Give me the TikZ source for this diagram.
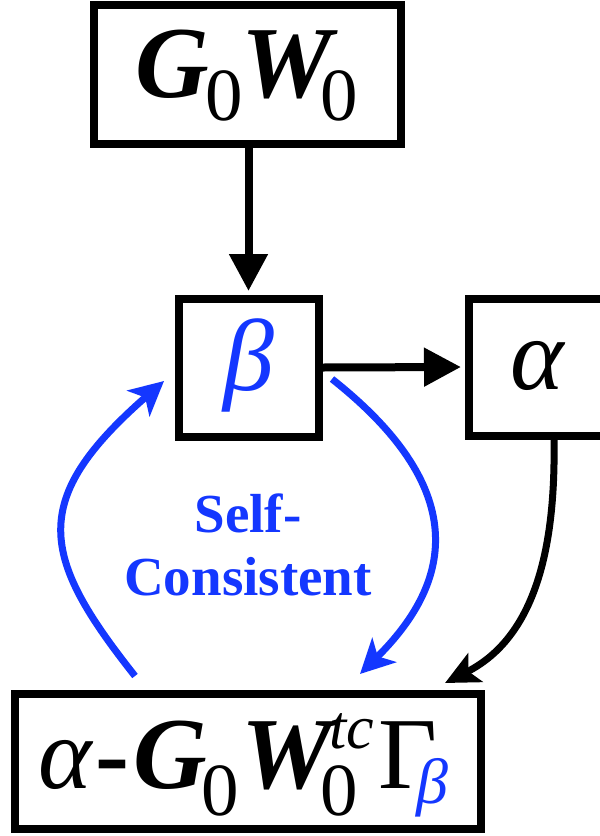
\documentclass[tikz,border=0pt]{standalone}
\usepackage{fontspec}
\setmainfont{LiberationSerif}[Extension=.ttf,UprightFont=*-Regular,BoldFont=*-Bold,ItalicFont=*-Italic,BoldItalicFont=*-BoldItalic]
\usetikzlibrary{arrows.meta}
\definecolor{scblue}{RGB}{20,55,255}
\newcommand\glyphat[3]{\rlap{\kern#1pt\raise#2pt\hbox{#3}}}
\begin{document}
\begin{tikzpicture}[x=1pt,y=-1pt,
  box/.style={draw=black, line width=8pt, rectangle, inner sep=0pt,
              text height=65pt, text depth=20pt,
              font=\fontsize{102}{110}\selectfont},
  blkarrow/.style={line width=8pt, draw=black,
              -{Triangle[length=37pt,width=37pt]}},
  curvearrow/.style={line width=7pt, draw=black,
              -{Stealth[length=34pt,width=32pt,inset=8pt]}},
  bluearrow/.style={line width=7pt, draw=scblue,
              -{Stealth[length=34pt,width=34pt,inset=9pt]}}]
\useasboundingbox (0,0) rectangle (600,836);
\fill[white] (0,0) rectangle (600,836);

\node[box, minimum width=307pt, minimum height=139pt] (top) at (247.5,74.5)
  {\makebox[225pt][l]{%
    \glyphat{0}{0}{\bfseries\itshape G}%
    \glyphat{70}{-23.5}{\fontsize{75}{80}\selectfont 0}%
    \glyphat{106}{0}{\bfseries\itshape W}%
    \glyphat{185}{-23.5}{\fontsize{75}{80}\selectfont 0}}};

\node[box, minimum width=140pt, minimum height=138pt, text=scblue,
      font=\fontsize{102}{110}\selectfont\itshape] (beta) at (248.5,367.5) {β};

\node[box, minimum width=138pt, minimum height=137pt,
      font=\fontsize{102}{110}\selectfont\itshape] (alpha) at (537.5,367) {α};

\node[box, minimum width=466pt, minimum height=135pt,
      text height=70pt, text depth=17pt] (bot) at (248,761.5)
  {\makebox[420pt][l]{%
    \glyphat{0}{0}{\itshape α}%
    \glyphat{57.5}{0}{\bfseries -}%
    \glyphat{95}{0}{\bfseries\itshape G}%
    \glyphat{163}{-27}{\fontsize{75}{80}\selectfont 0}%
    \glyphat{203}{0}{\bfseries\itshape W}%
    \glyphat{291.5}{40}{\fontsize{62}{66}\selectfont\itshape tc}%
    \glyphat{283}{-27}{\fontsize{75}{80}\selectfont 0}%
    \glyphat{341}{0}{Γ}%
    \glyphat{379}{-15.5}{\fontsize{64}{70}\selectfont\itshape\color{scblue}β}}};

\node[text=scblue, align=center, inner sep=0pt,
      font=\bfseries\fontsize{55}{63}\selectfont] (sc) at (248,544.5)
  {Self-\\Consistent};

\draw[blkarrow, shorten >=3.5pt] (top.south -| beta.north) -- (beta.north);
\draw[blkarrow, shorten >=3.5pt] (beta.east) -- (alpha.west);
\draw[curvearrow] ([xshift=16.5pt]alpha.south)
  .. controls (556,560) and (530,640) .. ([xshift=197pt,yshift=7pt]bot.north);
\draw[bluearrow] ([xshift=-113pt,yshift=14pt]bot.north)
  .. controls (40,556) and (28,500) .. ([xshift=-10.5pt,yshift=-13.5pt]beta.west);
\draw[bluearrow] ([xshift=9.5pt,yshift=-11.5pt]beta.east)
  .. controls (476,493) and (449,586) .. ([xshift=112pt,yshift=16pt]bot.north);
\end{tikzpicture}
\end{document}
